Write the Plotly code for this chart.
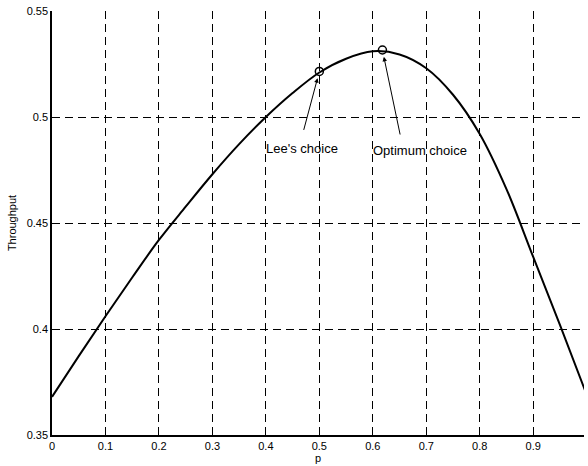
import plotly.graph_objects as go

p_vals = [0, 0.05, 0.1, 0.15, 0.2, 0.25, 0.3, 0.35, 0.4, 0.45, 0.5, 0.55,
          0.6, 0.65, 0.7, 0.75, 0.8, 0.85, 0.9, 0.95, 1.0]
throughput = [0.368, 0.3872, 0.406, 0.4243, 0.442, 0.4577, 0.473, 0.4872,
              0.500, 0.5113, 0.521, 0.5275, 0.531, 0.5295, 0.523, 0.5105,
              0.492, 0.466, 0.434, 0.402, 0.369]
marker_p = [0.5, 0.618]
marker_t = [0.5215, 0.5316]
marker_labels = ["Lee's choice", "Optimum choice"]
label_p = [0.467, 0.688]
label_t = [0.4851, 0.4842]
x_ticks = [0, 0.1, 0.2, 0.3, 0.4, 0.5, 0.6, 0.7, 0.8, 0.9]
y_ticks = [0.35, 0.4, 0.45, 0.5, 0.55]

fig = go.Figure()
fig.add_trace(go.Scatter(x=p_vals, y=throughput, mode="lines",
                         line=dict(color="black", width=2, shape="spline"),
                         showlegend=False))
fig.add_trace(go.Scatter(x=marker_p, y=marker_t, mode="markers",
                         marker=dict(symbol="circle-open", size=8,
                                     color="black", line=dict(width=1.5)),
                         showlegend=False))

# arrows (tail offsets in pixels relative to the marked point)
arrow_offsets = [(-16, 60), (18, 86)]
for xp, yp, (ax, ay) in zip(marker_p, marker_t, arrow_offsets):
    fig.add_annotation(x=xp, y=yp, text="", showarrow=True, arrowhead=2,
                       arrowsize=0.9, arrowwidth=1, arrowcolor="black",
                       ax=ax, ay=ay, standoff=7)

for xl, yl, lab in zip(label_p, label_t, marker_labels):
    fig.add_annotation(x=xl, y=yl, text=lab, showarrow=False,
                       xanchor="center", yanchor="middle",
                       font=dict(family="Arial", size=13, color="black"))

axis_common = dict(showline=True, linecolor="black", linewidth=1.5,
                   showgrid=True, gridcolor="black", griddash="8px,5px",
                   gridwidth=1.3, zeroline=False, ticks="",
                   tickfont=dict(family="Arial", size=11, color="black"))

fig.update_xaxes(range=[0, 0.995], tickvals=x_ticks,
                 ticktext=[f"{v:g}" for v in x_ticks],
                 title=dict(text="p", font=dict(family="Arial", size=11, color="black"),
                            standoff=0),
                 **axis_common)
fig.update_yaxes(range=[0.35, 0.55], tickvals=y_ticks,
                 ticktext=[f"{v:g}" for v in y_ticks],
                 title=dict(text="Throughput", font=dict(family="Arial", size=11, color="black"),
                            standoff=8),
                 **axis_common)

fig.update_layout(width=588, height=466, plot_bgcolor="white",
                  paper_bgcolor="white",
                  margin=dict(l=52, r=4, t=11, b=31))

fig.write_html("out.html")
